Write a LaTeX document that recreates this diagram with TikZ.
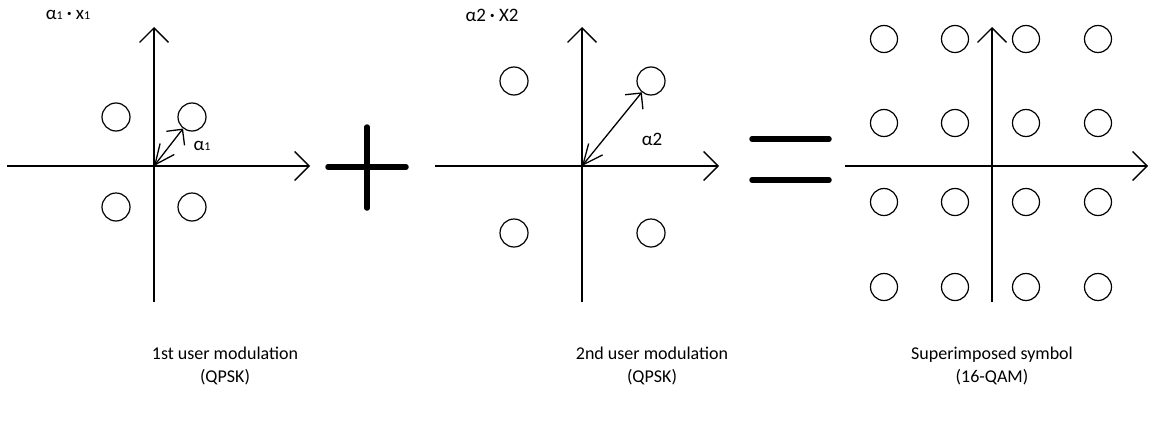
\documentclass[tikz,border=0pt]{standalone}
\usepackage{fontspec}
\setmainfont{Carlito}
\usetikzlibrary{arrows.meta}
\newcommand{\smallidx}[1]{{\fontsize{12}{13}\selectfont #1}}
\newcommand{\prodmark}{\raisebox{3pt}{\fontsize{9}{10}\selectfont •}}
\begin{document}
\begin{tikzpicture}[x=1pt,y=-1pt,
  axis/.style={line width=1.3pt,-{Straight Barb[length=14.5pt,width=29pt]}},
  vec/.style={line width=1.3pt,
    {Straight Barb[length=20pt,width=18pt]}-{Straight Barb[length=11.5pt,width=23pt]}},
  pt/.style={circle,draw,line width=1.2pt,inner sep=0pt,minimum size=28pt},
  qpt/.style={circle,draw,line width=1.2pt,inner sep=0pt,minimum size=27pt},
  opsign/.style={line width=5.5pt,line cap=round},
  captext/.style={font=\fontsize{18}{23}\selectfont,align=center},
  lbl/.style={font=\fontsize{19}{21}\selectfont,inner sep=0pt}]
\useasboundingbox (0,0) rectangle (1150,423);

% ---- 1st user constellation (QPSK) ----
\coordinate (o1) at (154,166);
\coordinate (l1) at (7,166);   \coordinate (r1) at (310,166);
\coordinate (t1) at (154,27);  \coordinate (b1) at (154,302);
\draw[axis] (l1) -- (r1);
\draw[axis] (b1) -- (t1);
\node[pt] (a1) at (116,117) {};
\node[pt] (a2) at (192,117) {};
\node[pt] (a3) at (116,207) {};
\node[pt] (a4) at (192,207) {};
\draw[vec] (o1) -- (a2);
\node[lbl] (al1) at (202,146) {α\smallidx{1}};
\node[lbl] (top1) at (68,15) {α\smallidx{1} \prodmark{} x\smallidx{1}};
\node[captext] (cap1) at (225,366) {1st user modulation\\(QPSK)};

% ---- plus sign ----
\coordinate (ph1) at (328,167); \coordinate (ph2) at (406,167);
\coordinate (pv1) at (367,127); \coordinate (pv2) at (367,208);
\draw[opsign] (ph1) -- (ph2);
\draw[opsign] (pv1) -- (pv2);

% ---- 2nd user constellation (QPSK) ----
\coordinate (o2) at (582,166);
\coordinate (l2) at (435,166); \coordinate (r2) at (719,166);
\coordinate (t2) at (582,27);  \coordinate (b2) at (582,302);
\draw[axis] (l2) -- (r2);
\draw[axis] (b2) -- (t2);
\node[pt] (b1p) at (514,81) {};
\node[pt] (b2p) at (651,81) {};
\node[pt] (b3p) at (514,233) {};
\node[pt] (b4p) at (651,233) {};
\draw[vec] (o2) -- (b2p);
\node[lbl] (al2) at (652,139) {α2};
\node[lbl] (top2) at (492,15) {α2 \prodmark{} X2};
\node[captext] (cap2) at (652,366) {2nd user modulation\\(QPSK)};

% ---- equals sign ----
\coordinate (e1a) at (752,139); \coordinate (e1b) at (829,139);
\coordinate (e2a) at (752,180); \coordinate (e2b) at (829,180);
\draw[opsign] (e1a) -- (e1b);
\draw[opsign] (e2a) -- (e2b);

% ---- superimposed constellation (16-QAM) ----
\coordinate (l3) at (845,166); \coordinate (r3) at (1148,166);
\coordinate (t3) at (992,27);  \coordinate (b3) at (992,302);
\draw[axis] (l3) -- (r3);
\draw[axis] (b3) -- (t3);
\foreach \cx [count=\i] in {884,955,1026,1098}
  \foreach \cy [count=\j] in {39,123,202,287}
    \node[qpt] (q\i\j) at (\cx,\cy) {};
\node[captext] (cap3) at (992,366) {Superimposed symbol\\(16-QAM)};
\end{tikzpicture}
\end{document}
